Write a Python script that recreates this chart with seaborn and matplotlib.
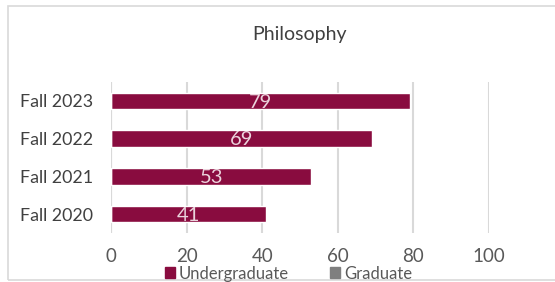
import numpy as np
import pandas as pd
import matplotlib.pyplot as plt
import seaborn as sns
from matplotlib.patches import Patch, Rectangle

# Data
terms = ["Fall 2023", "Fall 2022", "Fall 2021", "Fall 2020"]
undergraduate = [79, 69, 53, 41]
graduate = [0, 0, 0, 0]
x_ticks = [0, 20, 40, 60, 80, 100]
title = "Philosophy"

UG_COLOR = "#890C3F"
GR_COLOR = "#7F7F7F"
GRID_COLOR = "#D9D9D9"

sns.set_theme(style="white")
plt.rcParams["font.family"] = ["Lato", "DejaVu Sans"]

fig = plt.figure(figsize=(5.55, 2.82), dpi=100)
ax = fig.add_axes([0.200, 0.174, 0.681, 0.535])

# outer chart border
fig.patches.append(Rectangle((8 / 555, 2 / 282), 1.0, 1 - 8 / 282,
                             transform=fig.transFigure, fill=False,
                             edgecolor="#D9D9D9", linewidth=1.2))

df = pd.DataFrame({"term": terms, "Undergraduate": undergraduate, "Graduate": graduate})

sns.barplot(data=df, x="Undergraduate", y="term", color=UG_COLOR, width=0.44,
            saturation=1, ax=ax, zorder=3)
sns.barplot(data=df, x="Graduate", y="term", color=GR_COLOR, width=0.44,
            saturation=1, ax=ax, zorder=3)

for i, v in enumerate(undergraduate):
    ax.text(v / 2, i + 0.03, str(v), ha="center", va="center", color="#EBD3DC",
            fontsize=14.5, zorder=4)

ax.set_xlim(0, 100)
ax.set_ylim(3.5, -0.5)
ax.set_xticks(x_ticks)
ax.xaxis.grid(True, color=GRID_COLOR, linewidth=1.5, zorder=0)
ax.set_axisbelow(True)
for s in ax.spines.values():
    s.set_visible(False)
ax.axvline(0, color=GRID_COLOR, linewidth=1.5, zorder=1)

ax.set_xlabel("")
ax.set_ylabel("")
ax.tick_params(axis="x", labelsize=13.5, labelcolor="#595959", length=0, pad=11)
ax.tick_params(axis="y", labelsize=12.8, labelcolor="#404040", length=0, pad=13)

ax.set_title(title, fontsize=14, color="#404040", pad=30)

handles = [Patch(color=UG_COLOR, label="Undergraduate"),
           Patch(color=GR_COLOR, label="Graduate")]
fig.legend(handles=handles, loc="center", bbox_to_anchor=(0.52, 0.03), ncol=2,
           frameon=False, fontsize=12, handlelength=0.6, handleheight=0.6,
           handletextpad=0.2, columnspacing=2.5, labelcolor="#595959")

fig.savefig("out.png", dpi=100)
